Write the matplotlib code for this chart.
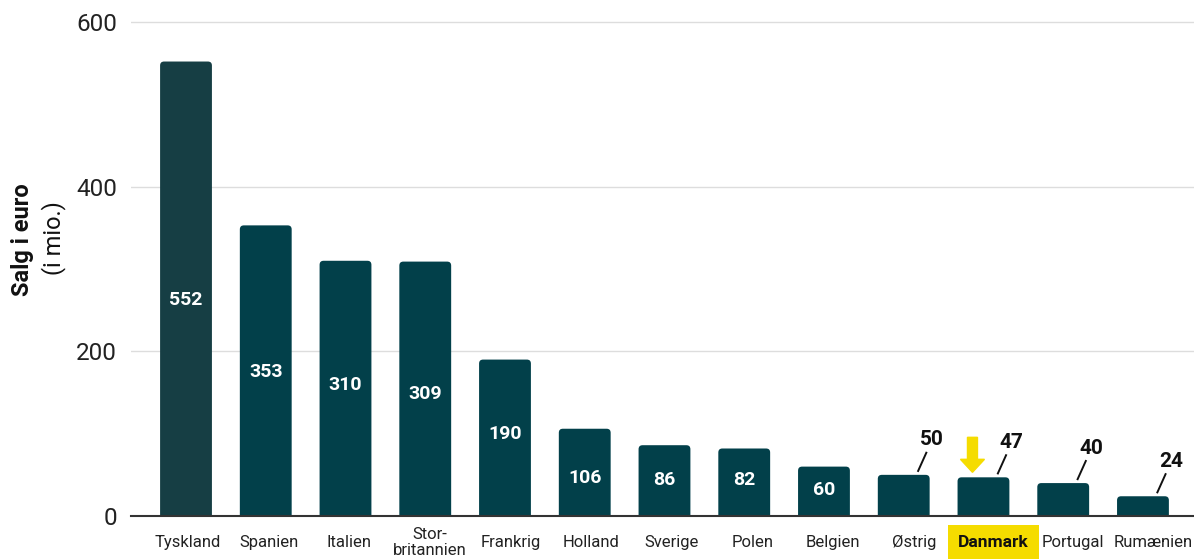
import matplotlib
matplotlib.use("Agg")
import matplotlib.pyplot as plt
import matplotlib.transforms as mtransforms
from matplotlib.patches import FancyArrow, FancyBboxPatch

countries = ["Tyskland", "Spanien", "Italien", "Stor-\nbritannien", "Frankrig", "Holland",
             "Sverige", "Polen", "Belgien", "Østrig", "Danmark", "Portugal", "Rumænien"]
sales = [552, 353, 310, 309, 190, 106, 86, 82, 60, 50, 47, 40, 24]
inside_labels = [True, True, True, True, True, True, True, True, True, False, False, False, False]
highlight = "Danmark"
yticks = [0, 200, 400, 600]

# layout: relative height of the in-bar value label (fraction of bar height)
label_frac = [0.475, 0.494, 0.513, 0.479, 0.524, 0.44, 0.508, 0.533, 0.527, 0, 0, 0, 0]

FONT = "Roboto"
plt.rcParams["font.family"] = [FONT, "DejaVu Sans"]

fig = plt.figure(figsize=(11.94, 5.59), dpi=100)
ax = fig.add_axes([0.1097, 0.0769, 0.8903, 0.9132])

colors = ["#163e44"] + ["#02404a"] * (len(sales) - 1)
x = list(range(len(sales)))
bars = ax.bar(x, sales, width=0.65, color=colors, zorder=3)

ax.set_xlim(-0.69, len(sales) - 1 + 0.64)
ax.set_ylim(0, 620)

# rounded top corners: redraw each bar as a rounded box in pixel space
ident = mtransforms.IdentityTransform()
for b in bars:
    (x0, y0), (x1, y1) = ax.transData.transform([(b.get_x(), 0), (b.get_x() + b.get_width(), b.get_height())])
    rb = FancyBboxPatch((x0, y0 - 10), x1 - x0, (y1 - y0) + 10,
                        boxstyle="round,pad=0,rounding_size=4",
                        facecolor=b.get_facecolor(), edgecolor="none",
                        transform=ident, zorder=3)
    ax.add_patch(rb)
    rb.set_clip_box(ax.bbox)
    b.set_visible(False)

ax.set_yticks(yticks)
ax.set_yticklabels([str(t) for t in yticks], fontsize=17.5, color="#222222")
ax.yaxis.grid(True, color="#dddddd", linewidth=1, zorder=0)
ax.tick_params(axis="both", length=0)
ax.tick_params(axis="y", pad=10)
for s in ["left", "right", "top"]:
    ax.spines[s].set_visible(False)
ax.spines["bottom"].set_color("#333333")
ax.spines["bottom"].set_linewidth(1.5)
ax.spines["bottom"].set_zorder(4)

ax.set_xticks(x)
ax.set_xticklabels(countries, fontsize=12, color="#222222", linespacing=1.05)
ax.tick_params(axis="x", pad=19)
for i, t in enumerate(ax.get_xticklabels()):
    t.set_va("center")
    shift = min(0.9 * i + 2, 10)
    t.set_transform(t.get_transform() + mtransforms.Affine2D().translate(shift, 0))
    if t.get_text() == highlight:
        t.set_fontweight("bold")
        t.set_fontsize(12.5)
        t.set_color("#111111")
        t.set_bbox(dict(facecolor="#f5dc00", edgecolor="none", pad=7))

# value labels
inv = ax.transData.inverted()
for i, (v, inside) in enumerate(zip(sales, inside_labels)):
    if inside:
        ax.text(i, v * label_frac[i], str(v), ha="center", va="center", color="white",
                fontsize=14, fontweight="bold", zorder=5)
    else:
        p0 = ax.transData.transform((i, v))
        a = inv.transform((p0[0] + 14, p0[1] + 3))
        b2 = inv.transform((p0[0] + 23, p0[1] + 23))
        ax.plot([a[0], b2[0]], [a[1], b2[1]], color="#111111", linewidth=1.4,
                zorder=5, solid_capstyle="butt")
        ax.annotate(str(v), xy=(i, v), xytext=(28, 35), textcoords="offset pixels",
                    ha="center", va="center", fontsize=15, fontweight="bold", color="#111111")

# yellow arrow above highlighted bar
hi = countries.index(highlight)
p0 = ax.transData.transform((hi, sales[hi]))
arrow = FancyArrow(p0[0] - 11, p0[1] + 40, 0, -35, width=10, head_width=24,
                   head_length=13, length_includes_head=True, color="#f5dc00",
                   transform=None, zorder=6)
fig.patches.append(arrow)

# y label
fig.text(0.0185, 0.572, "Salg i euro", rotation=90, ha="center", va="center",
         fontsize=17, fontweight="bold", color="#111111")
fig.text(0.045, 0.575, "(i mio.)", rotation=90, ha="center", va="center",
         fontsize=17, color="#111111")

fig.savefig("out.png", dpi=100)
